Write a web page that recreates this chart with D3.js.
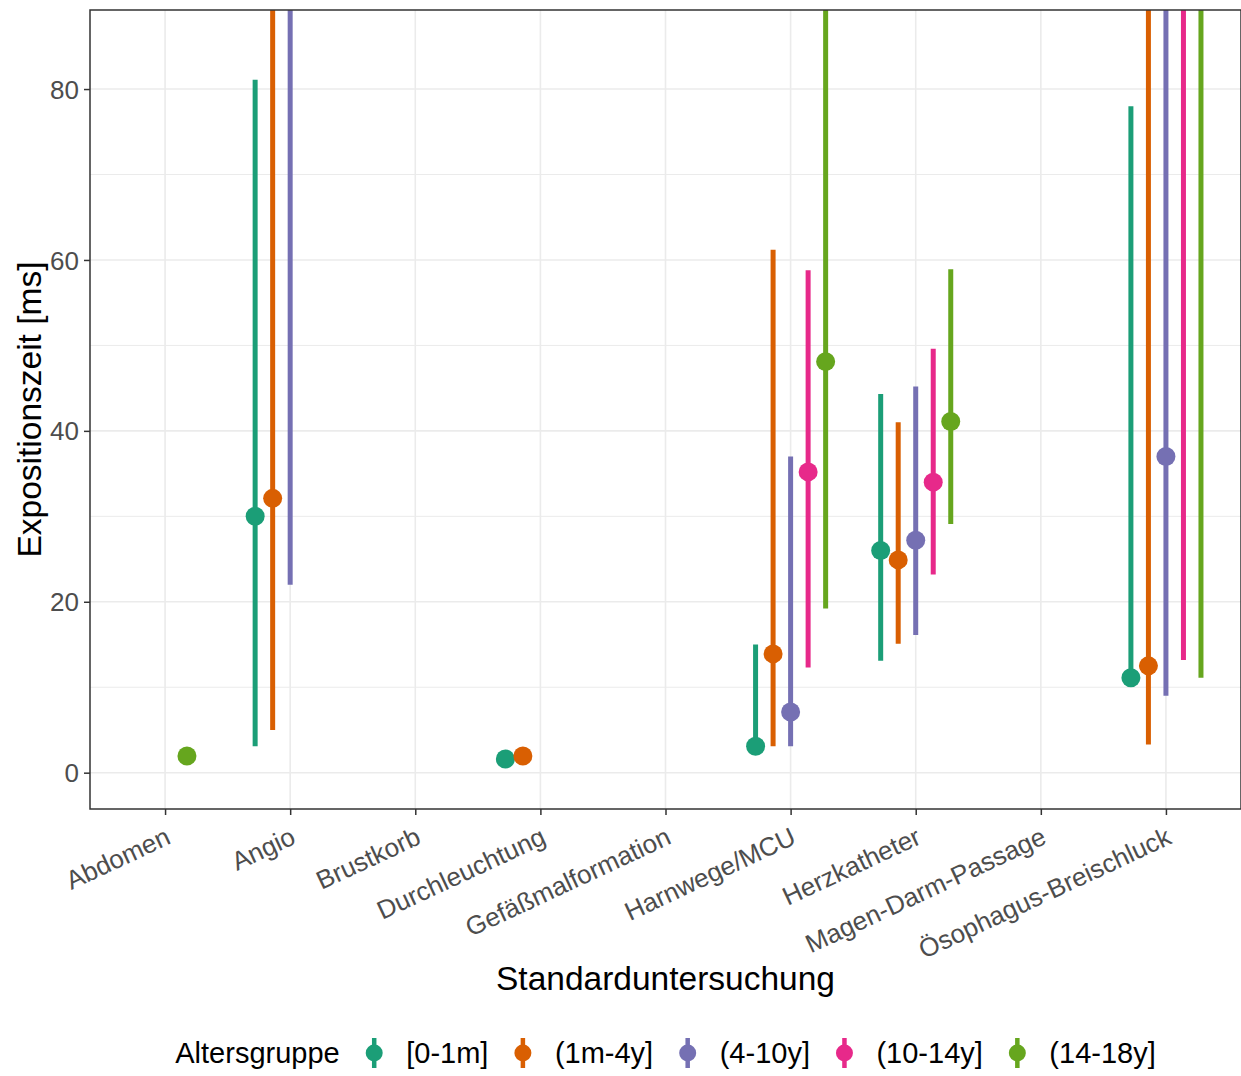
<!DOCTYPE html>
<html>
<head>
<meta charset="utf-8">
<script src="https://cdn.jsdelivr.net/npm/d3@7"></script>
<style>
  body { margin: 0; background: #fff; }
  text { font-family: "Liberation Sans", Arial, sans-serif; }
</style>
</head>
<body>
<div id="viz"><svg></svg></div>
<script>
const fullWidth = 1241;
const fullHeight = 1076;

const categories = ['Abdomen', 'Angio', 'Brustkorb', 'Durchleuchtung', 'Gefäßmalformation',
  'Harnwege/MCU', 'Herzkatheter', 'Magen-Darm-Passage', 'Ösophagus-Breischluck'];
const groups = ['[0-1m]', '(1m-4y]', '(4-10y]', '(10-14y]', '(14-18y]'];
const colors = ['#1B9E77', '#D95F02', '#7570B3', '#E7298A', '#66A61E'];

// one row per Altersgruppe, one value per category
// null = no data row, NaN = row without an estimate (still takes a dodge slot)
const median = [
  [null, 30.0, null, 1.6, null, 3.1, 26.0, null, 11.1],
  [null, 32.1, null, 1.95, null, 13.9, 24.9, null, 12.5],
  [null, 96, null, NaN, null, 7.1, 27.2, null, 37.0],
  [NaN, NaN, null, NaN, null, 35.2, 34.0, null, 105],
  [1.95, NaN, null, NaN, null, 48.1, 41.1, null, 110]
];
const lower = [
  [null, 3.1, null, 1.6, null, 3.1, 13.1, null, 11.0],
  [null, 5.0, null, 1.95, null, 3.1, 15.1, null, 3.3],
  [null, 22.0, null, NaN, null, 3.1, 16.1, null, 9.0],
  [NaN, NaN, null, NaN, null, 12.3, 23.2, null, 13.2],
  [1.95, NaN, null, NaN, null, 19.2, 29.1, null, 11.1]
];
const upper = [
  [null, 81.1, null, 1.6, null, 15.0, 44.3, null, 78.0],
  [null, 120, null, 1.95, null, 61.2, 41.0, null, 130],
  [null, 140, null, NaN, null, 37.0, 45.2, null, 125],
  [NaN, NaN, null, NaN, null, 58.8, 49.6, null, 140],
  [1.95, NaN, null, NaN, null, 98, 58.9, null, 150]
];

const yTicks = [0, 20, 40, 60, 80];
const yMinor = [10, 30, 50, 70];
const yLimits = [0, 85];

const panel = { left: 90, right: 1241, top: 10, bottom: 809 };
const dodgeWidth = 0.7;

const svg = d3.select('#viz svg')
  .attr('width', fullWidth)
  .attr('height', fullHeight);

const x = d3.scalePoint()
  .domain(categories)
  .range([panel.left, panel.right])
  .padding(0.6);

const ext = (yLimits[1] - yLimits[0]) * 0.05;
const y = d3.scaleLinear()
  .domain([yLimits[0] - ext, yLimits[1] + ext])
  .range([panel.bottom, panel.top]);

// build rows with dodge offsets like ggplot's position_dodge
let rows = [];
categories.forEach((c, ci) => {
  let present = [];
  groups.forEach((g, gi) => {
    if (median[gi][ci] !== null) present.push(gi);
  });
  let n = present.length;
  present.forEach((gi, k) => {
    let off = (k - (n - 1) / 2) * (dodgeWidth * x.step() / n);
    rows.push({
      cat: c, group: gi, cx: x(c) + off,
      mid: median[gi][ci], lo: lower[gi][ci], hi: upper[gi][ci]
    });
  });
});

svg.append('defs').append('clipPath').attr('id', 'panel-clip')
  .append('rect')
  .attr('x', panel.left).attr('y', panel.top)
  .attr('width', panel.right - panel.left).attr('height', panel.bottom - panel.top);

// grid
const grid = svg.append('g');
grid.selectAll('.minor')
  .data(yMinor)
  .enter().append('line')
  .attr('x1', panel.left).attr('x2', panel.right)
  .attr('y1', d => y(d)).attr('y2', d => y(d))
  .attr('stroke', '#EBEBEB').attr('stroke-width', 1);
grid.selectAll('.major')
  .data(yTicks)
  .enter().append('line')
  .attr('x1', panel.left).attr('x2', panel.right)
  .attr('y1', d => y(d)).attr('y2', d => y(d))
  .attr('stroke', '#EBEBEB').attr('stroke-width', 1.6);
grid.selectAll('.vmajor')
  .data(categories)
  .enter().append('line')
  .attr('x1', d => x(d)).attr('x2', d => x(d))
  .attr('y1', panel.top).attr('y2', panel.bottom)
  .attr('stroke', '#EBEBEB').attr('stroke-width', 1.6);

// point ranges
const marks = svg.append('g').attr('clip-path', 'url(#panel-clip)');
const valid = rows.filter(d => !isNaN(d.mid));

marks.selectAll('line.range')
  .data(valid)
  .enter().append('line')
  .attr('x1', d => d.cx).attr('x2', d => d.cx)
  .attr('y1', d => y(d.lo)).attr('y2', d => y(d.hi))
  .attr('stroke', d => colors[d.group])
  .attr('stroke-width', 5);

marks.selectAll('circle')
  .data(valid)
  .enter().append('circle')
  .attr('cx', d => d.cx)
  .attr('cy', d => y(d.mid))
  .attr('r', 9.5)
  .attr('fill', d => colors[d.group]);

// panel border
svg.append('rect')
  .attr('x', panel.left).attr('y', panel.top)
  .attr('width', panel.right - panel.left).attr('height', panel.bottom - panel.top)
  .attr('fill', 'none')
  .attr('stroke', '#333333')
  .attr('stroke-width', 1.5);

// y axis
const yAxis = svg.append('g')
  .attr('transform', `translate(${panel.left},0)`)
  .call(d3.axisLeft(y).tickValues(yTicks).tickSize(6).tickPadding(5));
yAxis.select('.domain').remove();
yAxis.selectAll('.tick line').attr('stroke', '#333333').attr('stroke-width', 1.5);
yAxis.selectAll('.tick text')
  .attr('fill', '#4D4D4D')
  .style('font-size', '26px')
  .attr('dy', '0.35em');

// x axis
const xAxis = svg.append('g')
  .attr('transform', `translate(0,${panel.bottom})`)
  .call(d3.axisBottom(x).tickSize(6).tickFormat(''));
xAxis.select('.domain').remove();
xAxis.selectAll('.tick line').attr('stroke', '#333333').attr('stroke-width', 1.5);

svg.append('g').selectAll('text')
  .data(categories)
  .enter().append('text')
  .attr('transform', d => `translate(${x(d) + 7},843) rotate(-25)`)
  .attr('text-anchor', 'end')
  .attr('fill', '#4D4D4D')
  .style('font-size', '26px')
  .text(d => d);

// axis titles
const midX = (panel.left + panel.right) / 2;
svg.append('text')
  .attr('x', midX).attr('y', 990)
  .attr('text-anchor', 'middle')
  .style('font-size', '33.5px')
  .text('Standarduntersuchung');

svg.append('text')
  .attr('transform', `translate(41,${(panel.top + panel.bottom) / 2}) rotate(-90)`)
  .attr('text-anchor', 'middle')
  .style('font-size', '33.5px')
  .text('Expositionszeit [ms]');

// legend
const legend = svg.append('g');
const legY = 1053;
const title = legend.append('text')
  .attr('y', legY).attr('dy', '0.35em')
  .style('font-size', '29px')
  .text('Altersgruppe');

let items = groups.map((g, i) => {
  let key = legend.append('g');
  key.append('line')
    .attr('y1', legY - 15).attr('y2', legY + 15)
    .attr('stroke', colors[i]).attr('stroke-width', 4.5);
  key.append('circle')
    .attr('cy', legY).attr('r', 8.5)
    .attr('fill', colors[i]);
  let label = legend.append('text')
    .attr('y', legY).attr('dy', '0.35em')
    .style('font-size', '29px')
    .text(g);
  return { key, label };
});

const gapToKey = 34.5, keyToLabel = 32;
let total = title.node().getComputedTextLength();
items.forEach(it => { total += gapToKey + keyToLabel + it.label.node().getComputedTextLength(); });
let cursor = midX - total / 2;
title.attr('x', cursor);
cursor += title.node().getComputedTextLength();
items.forEach(it => {
  let kx = cursor + gapToKey;
  it.key.attr('transform', `translate(${kx},0)`);
  it.label.attr('x', kx + keyToLabel);
  cursor = kx + keyToLabel + it.label.node().getComputedTextLength();
});
</script>
</body>
</html>
